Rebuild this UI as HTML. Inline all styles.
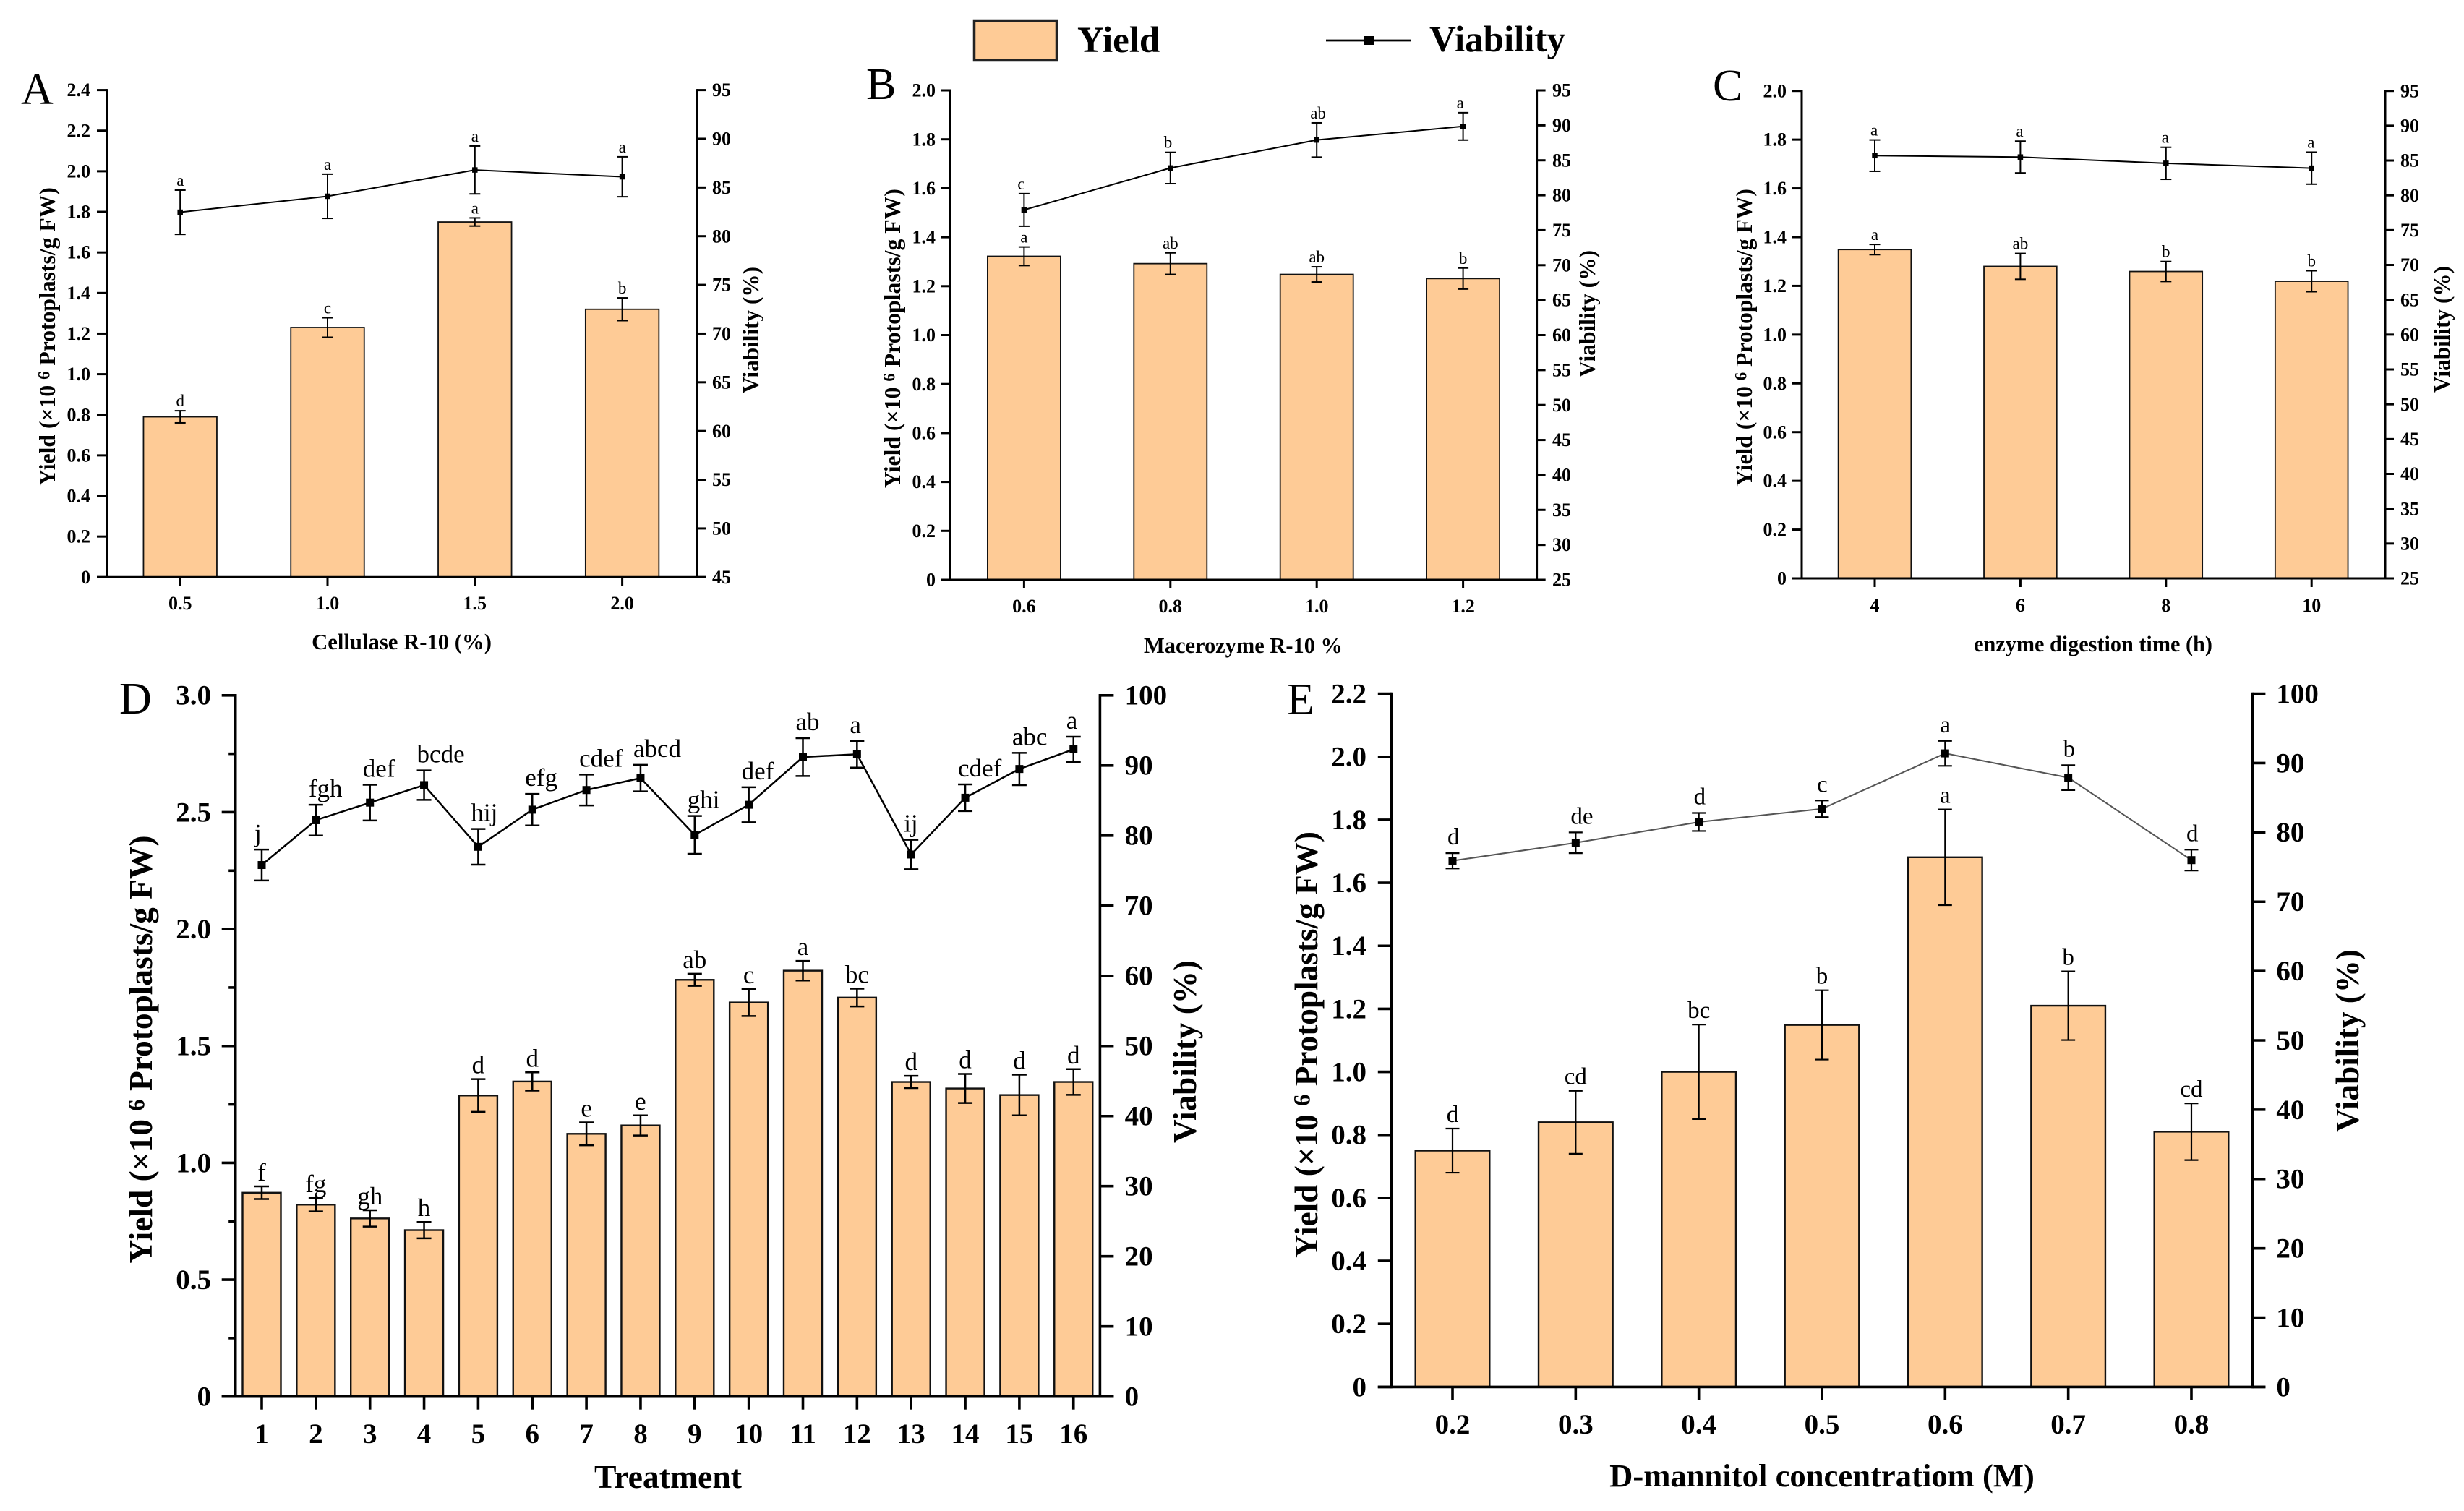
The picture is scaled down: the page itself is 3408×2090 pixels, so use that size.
<!DOCTYPE html>
<html lang="en">
<head>
<meta charset="utf-8">
<title>Protoplast yield and viability</title>
<style>
html,body{margin:0;padding:0;background:#fff;}
svg{display:block;}
text{font-family:"Liberation Serif",serif;fill:#000;}
</style>
</head>
<body>
<svg id="figure" xmlns="http://www.w3.org/2000/svg" width="3408" height="2090" viewBox="0 0 3408 2090">
  <rect x="0" y="0" width="3408" height="2090" fill="#fff"/>
  <g>
    <rect x="1347.5" y="28.5" width="114" height="55" fill="#fecb96" stroke="#222" stroke-width="3.5"/>
    <text x="1490" y="72" font-size="51" font-weight="700">Yield</text>
    <line x1="1834" y1="56" x2="1951" y2="56" stroke="#000" stroke-width="2.8"/>
    <rect x="1886" y="50" width="14" height="12" fill="#000"/>
    <text x="1977" y="71" font-size="51" font-weight="700">Viability</text>
  </g>
</svg>
<script>
// ---- Panel A data ----
const aCategories = ['0.5','1.0','1.5','2.0'];
const aYield = [0.79,1.23,1.75,1.32];
const aYieldErr = [0.03,0.048,0.02,0.056];
const aViability = [82.46,84.1,86.8,86.1];
const aViabilityErr = [2.27,2.27,2.46,2.05];
const aYieldLetters = ['d','c','a','b'];
const aViabilityLetters = ['a','a','a','a'];
const aYieldTicks = ['0','0.2','0.4','0.6','0.8','1.0','1.2','1.4','1.6','1.8','2.0','2.2','2.4'];
const aViabilityTicks = ['45','50','55','60','65','70','75','80','85','90','95'];

// ---- Panel B data ----
const bCategories = ['0.6','0.8','1.0','1.2'];
const bYield = [1.322,1.292,1.248,1.231];
const bYieldErr = [0.038,0.044,0.031,0.043];
const bViability = [77.9,83.9,87.9,89.85];
const bViabilityErr = [2.33,2.24,2.45,1.96];
const bYieldLetters = ['a','ab','ab','b'];
const bViabilityLetters = ['c','b','ab','a'];
const bYieldTicks = ['0','0.2','0.4','0.6','0.8','1.0','1.2','1.4','1.6','1.8','2.0'];
const bViabilityTicks = ['25','30','35','40','45','50','55','60','65','70','75','80','85','90','95'];

// ---- Panel C data ----
const cCategories = ['4','6','8','10'];
const cYield = [1.349,1.28,1.259,1.219];
const cYieldErr = [0.021,0.053,0.041,0.043];
const cViability = [85.7,85.5,84.6,83.9];
const cViabilityErr = [2.25,2.28,2.3,2.3];
const cYieldLetters = ['a','ab','b','b'];
const cViabilityLetters = ['a','a','a','a'];
const cYieldTicks = ['0','0.2','0.4','0.6','0.8','1.0','1.2','1.4','1.6','1.8','2.0'];
const cViabilityTicks = ['25','30','35','40','45','50','55','60','65','70','75','80','85','90','95'];

// ---- Panel D data ----
const dCategories = ['1','2','3','4','5','6','7','8','9','10','11','12','13','14','15','16'];
const dYield = [0.872,0.821,0.762,0.712,1.288,1.348,1.124,1.16,1.783,1.686,1.822,1.707,1.346,1.318,1.29,1.346];
const dYieldErr = [0.027,0.029,0.035,0.035,0.07,0.039,0.049,0.043,0.026,0.058,0.042,0.038,0.026,0.062,0.087,0.055];
const dViability = [75.8,82.2,84.7,87.2,78.4,83.7,86.5,88.2,80.1,84.4,91.2,91.6,77.3,85.4,89.5,92.3];
const dViabilityErr = [2.2,2.2,2.55,2.1,2.55,2.25,2.2,1.9,2.7,2.5,2.7,1.9,2.1,1.9,2.3,1.8];
const dYieldLetters = ['f','fg','gh','h','d','d','e','e','ab','c','a','bc','d','d','d','d'];
const dViabilityLetters = ['j','fgh','def','bcde','hij','efg','cdef','abcd','ghi','def','ab','a','ij','cdef','abc','a'];
const dYieldTicks = ['0','0.5','1.0','1.5','2.0','2.5','3.0'];
const dViabilityTicks = ['0','10','20','30','40','50','60','70','80','90','100'];

// ---- Panel E data ----
const eCategories = ['0.2','0.3','0.4','0.5','0.6','0.7','0.8'];
const eYield = [0.75,0.84,1.0,1.149,1.681,1.21,0.81];
const eYieldErr = [0.07,0.1,0.15,0.11,0.152,0.109,0.09];
const eViability = [75.9,78.5,81.5,83.4,91.4,87.9,76];
const eViabilityErr = [1.1,1.5,1.3,1.2,1.8,1.8,1.5];
const eYieldLetters = ['d','cd','bc','b','a','b','cd'];
const eViabilityLetters = ['d','de','d','c','a','b','d'];
const eYieldTicks = ['0','0.2','0.4','0.6','0.8','1.0','1.2','1.4','1.6','1.8','2.0','2.2'];
const eViabilityTicks = ['0','10','20','30','40','50','60','70','80','90','100'];

const NS = 'http://www.w3.org/2000/svg';
const root = document.getElementById('figure');

function make(tag, attrs, parent) {
  const el = document.createElementNS(NS, tag);
  for (const k in attrs) el.setAttribute(k, attrs[k]);
  parent.appendChild(el);
  return el;
}

// Fit a text's font size so that its run length matches the reference length.
function fitLength(el, size, target) {
  const len = el.getComputedTextLength();
  if (len > 0) el.setAttribute('font-size', (size * target / len).toFixed(2));
}

function linear(d0, d1, r0, r1) {
  return function (v) { return r0 + (v - d0) * (r1 - r0) / (d1 - d0); };
}

function drawPanel(p) {
  const g = make('g', {}, root);
  
  

  const yTickVals = p.yTicks.map(Number);
  const vTickVals = p.vTicks.map(Number);
  const yScale = linear(yTickVals[0], yTickVals[yTickVals.length - 1], p.bottom, p.top);
  const vScale = linear(vTickVals[0], vTickVals[vTickVals.length - 1], p.bottom, p.top);
  const xScale = function (i) { return p.x0 + i * p.step; };

  // bars
  const barsG = make('g', {}, g);
  
  
  p.yield.forEach(function (v, i) {
    const y = yScale(v);
    const bar = make('rect', {
      x: xScale(i) - p.barW / 2, y: y, width: p.barW, height: p.bottom - y,
      fill: '#fecb96', stroke: '#111', 'stroke-width': p.barStroke
    }, barsG);
    
    
  });

  function errorBar(parent, x, y1, y2) {
    make('line', { x1: x, x2: x, y1: y1, y2: y2, stroke: '#000', 'stroke-width': p.errStroke }, parent);
    make('line', { x1: x - p.cap / 2, x2: x + p.cap / 2, y1: y1, y2: y1, stroke: '#000', 'stroke-width': p.errStroke }, parent);
    make('line', { x1: x - p.cap / 2, x2: x + p.cap / 2, y1: y2, y2: y2, stroke: '#000', 'stroke-width': p.errStroke }, parent);
  }

  // yield error bars + letters
  p.yield.forEach(function (v, i) {
    const eg = make('g', {}, g);
    
    
    const top = yScale(v + p.yieldErr[i]);
    errorBar(eg, xScale(i), top, yScale(v - p.yieldErr[i]));
    const t = make('text', { x: xScale(i), y: top - p.barLabelGap, 'font-size': p.letterSize, 'text-anchor': 'middle' }, g);
    
    
    t.textContent = p.yieldLetters[i];
  });

  // viability line
  const pts = p.viability.map(function (v, i) { return xScale(i) + ',' + vScale(v); }).join(' ');
  const line = make('polyline', { points: pts, fill: 'none', stroke: p.lineColor, 'stroke-width': p.lineWidth }, g);
  
  

  p.viability.forEach(function (v, i) {
    const eg = make('g', {}, g);
    
    
    const top = vScale(v + p.viabilityErr[i]);
    errorBar(eg, xScale(i), top, vScale(v - p.viabilityErr[i]));
    const m = make('rect', {
      x: xScale(i) - p.marker / 2, y: vScale(v) - p.marker / 2, width: p.marker, height: p.marker, fill: '#000'
    }, g);
    
    
    const t = make('text', { x: xScale(i) + p.viaLabelDx, y: top - p.viaLabelGap, 'font-size': p.letterSize }, g);
    
    
    t.textContent = p.viabilityLetters[i];
  });

  // axes
  const axes = make('g', { stroke: '#000', 'stroke-width': p.axisStroke, fill: 'none' }, g);
  
  
  const half = p.axisStroke / 2;
  make('line', { x1: p.left, x2: p.left, y1: p.top - half, y2: p.bottom + half }, axes);
  make('line', { x1: p.right, x2: p.right, y1: p.top - half, y2: p.bottom + half }, axes);
  make('line', { x1: p.left - p.yTickLen, x2: p.right + p.vTickLen, y1: p.bottom, y2: p.bottom }, axes);

  // left ticks
  yTickVals.forEach(function (v, i) {
    const y = yScale(v);
    make('line', { x1: p.left - p.yTickLen, x2: p.left, y1: y, y2: y }, axes);
    const t = make('text', { x: p.yLabelEnd, y: y + p.tickSize * 0.33, 'font-size': p.tickSize, 'font-weight': 700, 'text-anchor': 'end' }, g);
    
    
    t.textContent = p.yTicks[i];
    if (p.minorTicks && i < yTickVals.length - 1) {
      const my = yScale((v + yTickVals[i + 1]) / 2);
      make('line', { x1: p.left - p.yTickLen / 2, x2: p.left, y1: my, y2: my }, axes);
    }
  });

  // right ticks
  vTickVals.forEach(function (v, i) {
    const y = vScale(v);
    make('line', { x1: p.right, x2: p.right + p.vTickLen, y1: y, y2: y }, axes);
    const t = make('text', { x: p.vLabelStart, y: y + p.tickSize * 0.33, 'font-size': p.tickSize, 'font-weight': 700 }, g);
    
    
    t.textContent = p.vTicks[i];
  });

  // bottom ticks
  p.cats.forEach(function (c, i) {
    const x = xScale(i);
    make('line', { x1: x, x2: x, y1: p.bottom, y2: p.bottom + p.xTickLen }, axes);
    const t = make('text', { x: x, y: p.xLabelY, 'font-size': p.tickSize, 'font-weight': 700, 'text-anchor': 'middle' }, g);
    
    
    t.textContent = c;
  });

  // y-axis title
  const yt = make('text', {
    x: p.yTitle.x, y: p.yTitle.y, 'font-size': p.titleSize, 'font-weight': 700, 'text-anchor': 'middle',
    transform: 'rotate(-90 ' + p.yTitle.x + ' ' + p.yTitle.y + ')'
  }, g);
  
  
  const s1 = make('tspan', {}, yt);
  s1.textContent = 'Yield (\u00d710 ';
  const s2 = make('tspan', { dy: '-0.32em', 'font-size': '72%' }, yt);
  s2.textContent = '6';
  const s3 = make('tspan', { dy: '0.23em' }, yt);
  s3.textContent = ' Protoplasts/g FW)';
  fitLength(yt, p.titleSize, p.yTitle.len);

  // viability title
  const vt = make('text', {
    x: p.vTitle.x, y: p.vTitle.y, 'font-size': p.titleSize, 'font-weight': 700, 'text-anchor': 'middle',
    transform: 'rotate(-90 ' + p.vTitle.x + ' ' + p.vTitle.y + ')'
  }, g);
  
  
  vt.textContent = 'Viability (%)';
  fitLength(vt, p.titleSize, p.vTitle.len);

  // x title
  const xt = make('text', { x: p.xTitle.x, y: p.xTitle.y, 'font-size': p.titleSize, 'font-weight': 700, 'text-anchor': 'middle' }, g);
  
  
  xt.textContent = p.xTitle.text;
  fitLength(xt, p.titleSize, p.xTitle.len);

  // panel letter
  const pl = make('text', { x: p.letter.x, y: p.letter.y, 'font-size': 62 }, g);
  
  
  pl.textContent = p.id;
}

const smallStyle = {
  barStroke: 1.8, errStroke: 2, cap: 15, marker: 7.5, lineColor: '#000', lineWidth: 2,
  axisStroke: 3, yTickLen: 13, vTickLen: 12, xTickLen: 12, minorTicks: false,
  tickSize: 26, letterSize: 23, titleSize: 30, barLabelGap: 6, viaLabelGap: 6
};
const largeStyle = {
  barStroke: 2.4, errStroke: 2.5, cap: 20, marker: 11, lineColor: '#000', lineWidth: 2.5,
  axisStroke: 3.6, yTickLen: 19, vTickLen: 19, xTickLen: 18, minorTicks: false,
  tickSize: 39, letterSize: 35, titleSize: 44, barLabelGap: 8, viaLabelGap: 11
};

drawPanel(Object.assign({}, smallStyle, {
  id: 'A', left: 148, right: 964, top: 124.6, bottom: 798.3, x0: 249.2, step: 203.8, barW: 101.5,
  cats: aCategories, yield: aYield, yieldErr: aYieldErr, viability: aViability, viabilityErr: aViabilityErr,
  yieldLetters: aYieldLetters, viabilityLetters: aViabilityLetters, yTicks: aYieldTicks, vTicks: aViabilityTicks,
  viaLabelDx: -5, yLabelEnd: 125, vLabelStart: 985, xLabelY: 843, yTickLen: 14,
  yTitle: { x: 76, y: 465.5, len: 413 }, vTitle: { x: 1049, y: 456.5, len: 175 },
  xTitle: { x: 555.5, y: 898, len: 249, text: 'Cellulase R-10 (%)' }, letter: { x: 29, y: 144 }
}));

drawPanel(Object.assign({}, smallStyle, {
  id: 'B', left: 1314, right: 2125.6, top: 125, bottom: 802, x0: 1416.4, step: 202.4, barW: 101,
  cats: bCategories, yield: bYield, yieldErr: bYieldErr, viability: bViability, viabilityErr: bViabilityErr,
  yieldLetters: bYieldLetters, viabilityLetters: bViabilityLetters, yTicks: bYieldTicks, vTicks: bViabilityTicks,
  viaLabelDx: -9, yLabelEnd: 1294, vLabelStart: 2147, xLabelY: 847,
  yTitle: { x: 1245, y: 468, len: 414 }, vTitle: { x: 2206, y: 434, len: 176 },
  xTitle: { x: 1719.5, y: 903, len: 275, text: 'Macerozyme R-10 %' }, letter: { x: 1198, y: 137 }
}));

drawPanel(Object.assign({}, smallStyle, {
  id: 'C', left: 2492, right: 3299, top: 125.7, bottom: 800, x0: 2593, step: 201.4, barW: 100.7,
  cats: cCategories, yield: cYield, yieldErr: cYieldErr, viability: cViability, viabilityErr: cViabilityErr,
  yieldLetters: cYieldLetters, viabilityLetters: cViabilityLetters, yTicks: cYieldTicks, vTicks: cViabilityTicks,
  viaLabelDx: -6, yLabelEnd: 2471, vLabelStart: 3320, xLabelY: 846,
  yTitle: { x: 2423, y: 467, len: 412 }, vTitle: { x: 3388, y: 455.5, len: 175 },
  xTitle: { x: 2895, y: 901, len: 330, text: 'enzyme digestion time (h)' }, letter: { x: 2369, y: 139 }
}));

drawPanel(Object.assign({}, largeStyle, {
  id: 'D', left: 325.7, right: 1521.4, top: 961.8, bottom: 1931.7, x0: 362, step: 74.85, barW: 53,
  cats: dCategories, yield: dYield, yieldErr: dYieldErr, viability: dViability, viabilityErr: dViabilityErr,
  yieldLetters: dYieldLetters, viabilityLetters: dViabilityLetters, yTicks: dYieldTicks, vTicks: dViabilityTicks,
  minorTicks: true, viaLabelDx: -10, yLabelEnd: 292, vLabelStart: 1555.6, xLabelY: 1996,
  yTitle: { x: 210, y: 1451.5, len: 592 }, vTitle: { x: 1654, y: 1454.5, len: 253 },
  xTitle: { x: 924, y: 2058, len: 204, text: 'Treatment' }, letter: { x: 165, y: 987 }
}));

drawPanel(Object.assign({}, largeStyle, {
  id: 'E', left: 1924.8, right: 3115.4, top: 959.6, bottom: 1918.4, x0: 2009, step: 170.33, barW: 102.6,
  cats: eCategories, yield: eYield, yieldErr: eYieldErr, viability: eViability, viabilityErr: eViabilityErr,
  yieldLetters: eYieldLetters, viabilityLetters: eViabilityLetters, yTicks: eYieldTicks, vTicks: eViabilityTicks,
  lineColor: '#555', lineWidth: 2, errStroke: 2.2, cap: 19, letterSize: 33, barLabelGap: 9, viaLabelGap: 12,
  viaLabelDx: -7, yLabelEnd: 1890, vLabelStart: 3148.4, xLabelY: 1983, vTickLen: 18,
  yTitle: { x: 1822, y: 1445, len: 590 }, vTitle: { x: 3262, y: 1439.5, len: 253 },
  xTitle: { x: 2520, y: 2056, len: 588, text: 'D-mannitol concentratiom (M)' }, letter: { x: 1780, y: 988 }
}));
</script>
</body>
</html>
